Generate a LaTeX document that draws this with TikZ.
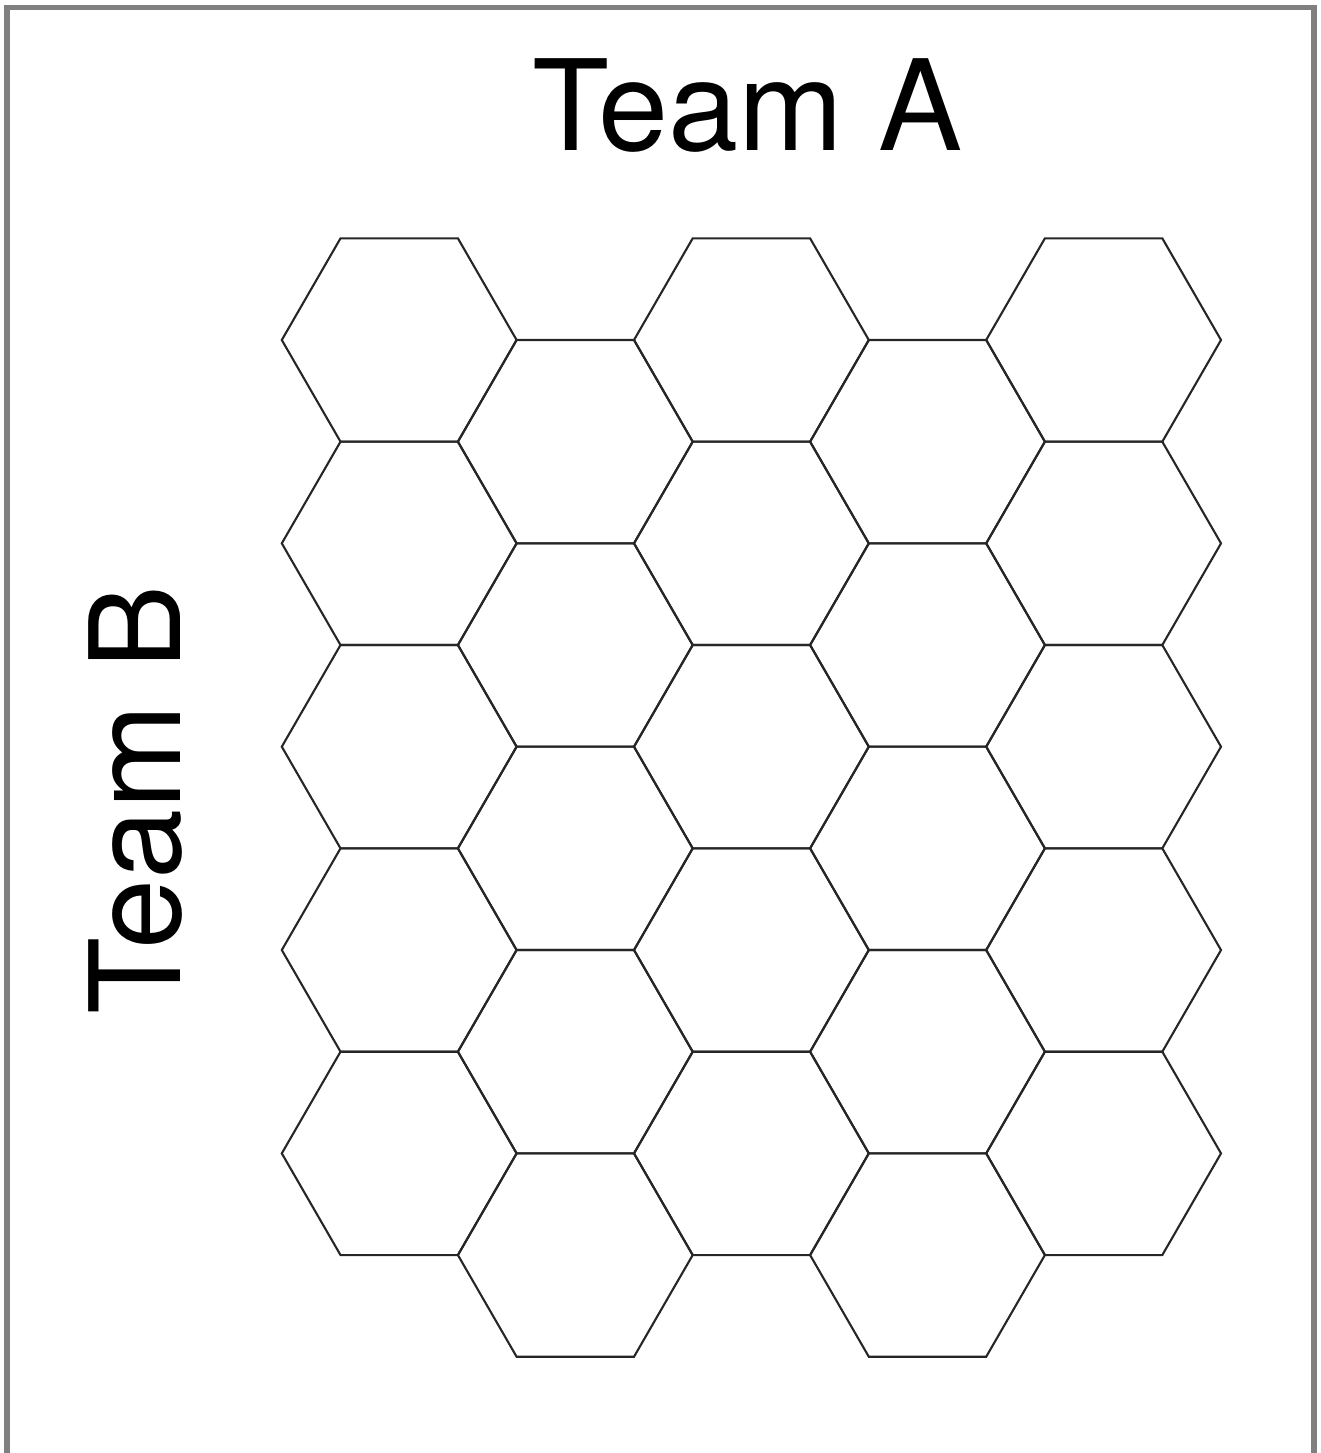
\documentclass[tikz,border=0pt]{standalone}
\usepackage{fontspec}
\setmainfont{TeX Gyre Heros}
\begin{document}
\begin{tikzpicture}[x=1pt,y=-1pt,
  hexline/.style={draw=black!85,line width=2.1pt,line join=miter},
  frameline/.style={draw=black!50,line width=5.5pt},
  teamlabel/.style={font=\fontsize{126}{126}\selectfont,inner sep=0pt,anchor=base}]
\clip (0,0) rectangle (1320,1453);
\useasboundingbox (0,0) rectangle (1320,1453);
\draw[frameline] (7,1470) -- (7,7.5) -- (1314,7.5) -- (1314,1470);
\pgfmathsetmacro{\R}{117.4}
\pgfmathsetmacro{\H}{0.8660254*\R}
\foreach \c in {0,...,4}{
  \foreach \r in {0,...,4}{
    \pgfmathsetmacro{\cx}{399.2+1.5*\R*\c}
    \pgfmathsetmacro{\cy}{340+2*\H*\r+mod(\c,2)*\H}
    \draw[hexline] (\cx-\R,\cy) -- (\cx-0.5*\R,\cy-\H) -- (\cx+0.5*\R,\cy-\H)
      -- (\cx+\R,\cy) -- (\cx+0.5*\R,\cy+\H) -- (\cx-0.5*\R,\cy+\H) -- cycle;
  }
}
\node[teamlabel] (teamA) at (747.5,150) {Team A};
\node[teamlabel,rotate=90] (teamB) at (180,800) {Team B};
\end{tikzpicture}
\end{document}
